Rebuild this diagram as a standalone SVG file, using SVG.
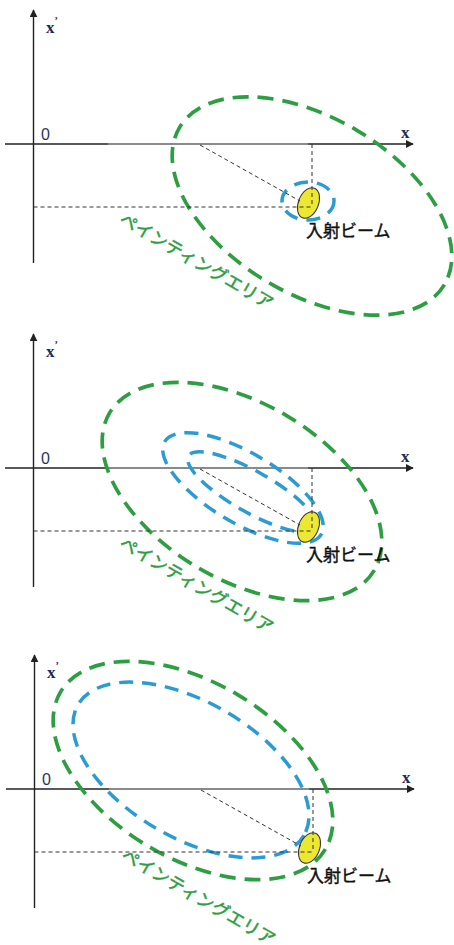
<svg xmlns="http://www.w3.org/2000/svg" width="454" height="945" viewBox="0 0 454 945">
<style>
.axis{stroke:#222;stroke-width:1.4;fill:none}
.axg{stroke:#8a8a8a;stroke-width:1.8;fill:none}
.guide{stroke:#333;stroke-width:1;stroke-dasharray:4 3;fill:none}
.green{stroke:#2e9e42;stroke-width:3.7;stroke-dasharray:16 9;fill:none}
.blue{stroke:#2b9bd3;stroke-width:3.5;stroke-dasharray:14 9;fill:none}
.beam{fill:#ece832;stroke:#333;stroke-width:1}
.lblx{font-family:"Liberation Serif",serif;font-weight:bold;font-size:17px;fill:#1f2b55}
.lbl0{font-family:"Liberation Sans",sans-serif;font-size:16px;fill:#2a3560}
.area{font-family:"Noto Sans CJK JP",sans-serif;font-size:17.5px;fill:#2e9e42;stroke:#2e9e42;stroke-width:0.5}
.beamlbl{font-family:"Noto Sans CJK JP",sans-serif;font-size:17px;fill:#111;stroke:#111;stroke-width:0.4}
</style>
<defs>
<marker id="arr" viewBox="0 0 10 10" refX="9" refY="5" markerWidth="8" markerHeight="8" markerUnits="userSpaceOnUse" orient="auto">
<path d="M0,0 L10,5 L0,10 z" fill="#222"/>
</marker>
<g id="axes">
<line class="axis" x1="33.5" y1="263" x2="33.5" y2="10" marker-end="url(#arr)"/>
<line class="axis" x1="5" y1="144" x2="108" y2="144"/>
<line class="axg" x1="108" y1="144" x2="308" y2="144"/>
<line class="axis" x1="308" y1="144" x2="413" y2="144" marker-end="url(#arr)"/>
<text class="lblx" x="46" y="33">x<tspan font-size="10" dy="-9">’</tspan></text>
<text class="lbl0" x="41" y="140">0</text>
<text class="lblx" x="401" y="138">x</text>
</g>
<g id="beamgrp">
<ellipse class="beam" cx="308.5" cy="203" rx="10" ry="16" transform="rotate(22 308.5 203)"/>
<line class="guide" x1="33.5" y1="207" x2="312" y2="207"/>
<line class="guide" x1="312" y1="144" x2="312" y2="207"/>
<line class="guide" x1="200" y1="145" x2="300" y2="201"/>
<text class="beamlbl" x="306" y="237">入射ビーム</text>
</g>
</defs>

<g id="panel1">
<use href="#axes"/>
<g id="painting-area-1">
<ellipse class="green" cx="312" cy="206" rx="154" ry="88" transform="rotate(30.7 312 206)"/>
<text class="area" transform="translate(118,223) rotate(30)">ペインティングエリア</text>
</g>
<ellipse id="beam-orbit-1" class="blue" cx="308" cy="201" rx="26" ry="19"/>
<use id="beam-1" href="#beamgrp"/>
</g>

<g id="panel2" transform="translate(0,324)">
<use href="#axes"/>
<g id="painting-area-2">
<ellipse class="green" cx="242" cy="167.5" rx="154" ry="88" transform="rotate(30.7 242 167.5)"/>
<text class="area" transform="translate(118,223) rotate(30)">ペインティングエリア</text>
</g>
<ellipse id="beam-orbit-2a" class="blue" cx="243" cy="164" rx="91" ry="35" transform="rotate(30.7 243 164)"/>
<ellipse id="beam-orbit-2b" class="blue" cx="252" cy="168" rx="73" ry="20.5" transform="rotate(29.5 252 168)"/>
<use id="beam-2" href="#beamgrp"/>
</g>

<g id="panel3" transform="translate(1,645)">
<use href="#axes"/>
<g id="painting-area-3">
<ellipse class="green" cx="192" cy="125.5" rx="154" ry="88" transform="rotate(30.7 192 125.5)"/>
<text class="area" transform="translate(119,214) rotate(30)" font-size="17">ペインティングエリア</text>
</g>
<ellipse id="beam-orbit-3" class="blue" cx="190" cy="125" rx="130.5" ry="68" transform="rotate(30 190 125)"/>
<use id="beam-3" href="#beamgrp"/>
</g>
</svg>
